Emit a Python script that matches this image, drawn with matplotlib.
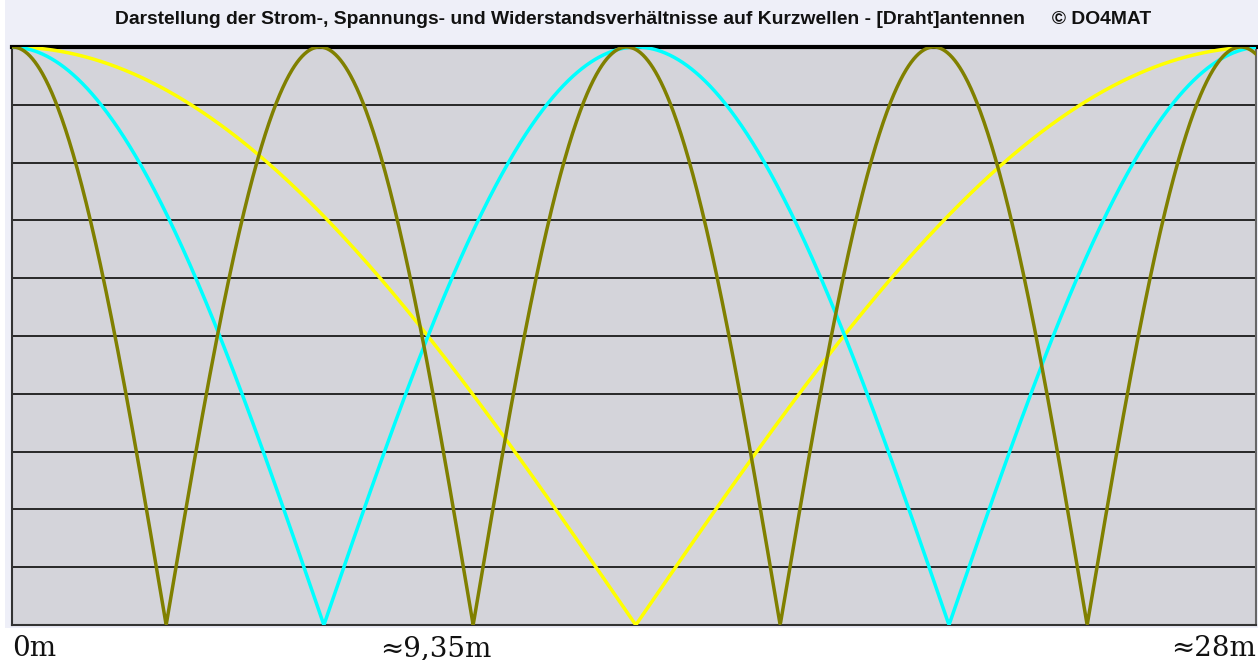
import matplotlib
matplotlib.use("Agg")
import matplotlib.pyplot as plt
import matplotlib.transforms as mtransforms
import numpy as np
from matplotlib.patches import Rectangle

# wire length and labels
wire_length = 28.0
x_labels = ["0m", "≈9,35m", "≈28m"]
x_label_pos = [0.0, 9.35, 28.0]

# standing waves: half-wave length (m) and position of first node (m)
colors = ["#ffff00", "#00ffff", "#808000"]
half_waves = [28.08, 14.07, 6.91]
first_nodes = [14.04, 7.02, 3.47]

title = ("Darstellung der Strom-, Spannungs- und Widerstandsverhältnisse auf "
         "Kurzwellen - [Draht]antennen     © DO4MAT")

W, H = 1258, 660
fig = plt.figure(figsize=(W / 100, H / 100), dpi=100, facecolor="white")

# light panel behind title and plot
fig.patches.append(Rectangle((5 / W, 1 - 628 / H), 1 - 5 / W, 628 / H,
                             transform=fig.transFigure, facecolor="#eeeff8",
                             edgecolor="none", zorder=-5))

ax = fig.add_axes([12 / W, 1 - 625 / H, (1256 - 12) / W, (625 - 47) / H])
ax.set_zorder(2)
ax.set_facecolor("#d4d4da")
ax.set_xlim(0, wire_length)
ax.set_ylim(0, 1)
ax.set_xticks([])
ax.set_yticks([])

for y in np.arange(1, 10) / 10:
    ax.axhline(y, color="#1a1a1a", lw=1.3, zorder=1)

x = np.linspace(0, wire_length, 2000)
for c, hw, n0 in zip(colors, half_waves, first_nodes):
    y = np.abs(np.sin(np.pi * (x - n0) / hw))
    ax.plot(x, y, color=c, lw=2.5, zorder=3, clip_on=True)

ax.spines["top"].set_linewidth(3)
ax.spines["top"].set_color("black")
ax.spines["left"].set_linewidth(1.5)
ax.spines["left"].set_color("#333333")
ax.spines["bottom"].set_linewidth(1.5)
ax.spines["bottom"].set_color("#333333")
ax.spines["right"].set_linewidth(1.5)
ax.spines["right"].set_color("#666666")

fig.text(633 / W, 1 - 20 / H, title, ha="center", va="center",
         fontsize=13.9, fontweight="bold", family="Liberation Sans", color="#111111")

xt = ax.get_xaxis_transform()
for lab, pos in zip(x_labels, x_label_pos):
    if pos == 0:
        ha, tr = "left", xt
    elif pos == wire_length:
        ha, tr = "right", xt
    else:
        ha, tr = "center", xt + mtransforms.ScaledTranslation(8 / 100, 0, fig.dpi_scale_trans)
    ax.text(pos, -0.04, lab, ha=ha, va="center", fontsize=20,
            family="DejaVu Serif", color="#111111", transform=tr, clip_on=False)

fig.savefig("out.png", dpi=100)
